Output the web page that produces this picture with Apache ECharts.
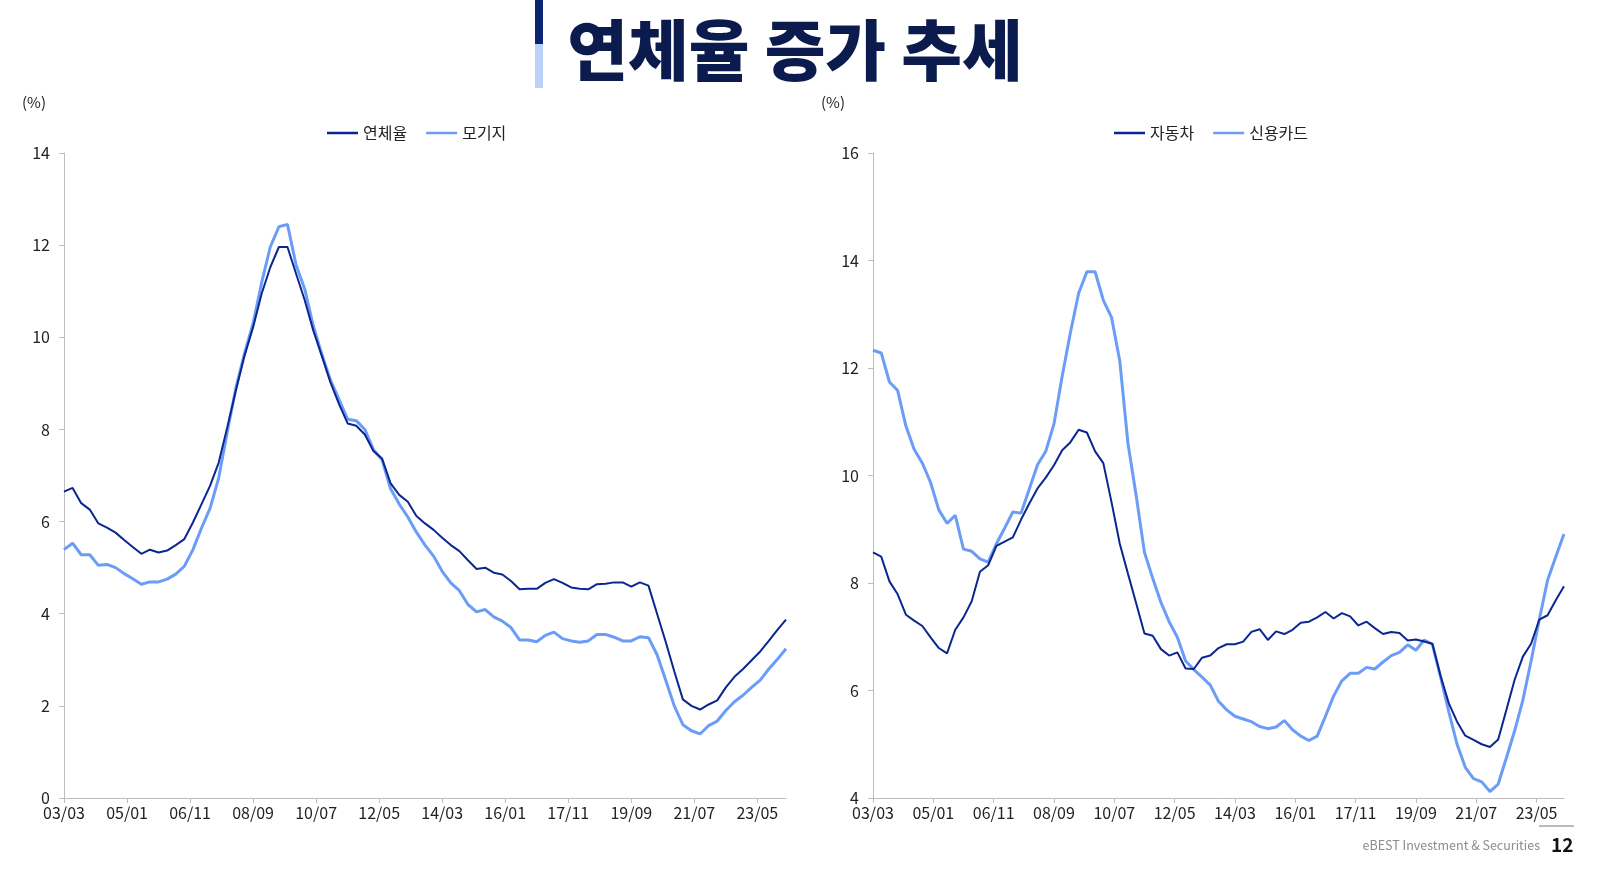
<!DOCTYPE html>
<html><head><meta charset="utf-8">
<script src="https://cdn.jsdelivr.net/npm/echarts@6/dist/echarts.min.js"></script>
<style>html,body{margin:0;padding:0;background:#fff}#c{width:1600px;height:875px}</style>
</head><body><div id="c"></div>
<script>
// Quarterly data, 2003-03 .. 2024-03 (85 quarters)
const startYear = 2003, startMonth = 3;
const tickLabels = ['03/03','05/01','06/11','08/09','10/07','12/05','14/03','16/01','17/11','19/09','21/07','23/05'];
const leftNames = ['연체율', '모기지'];
const rightNames = ['자동차', '신용카드'];

const delinquency = [6.65,6.73,6.40,6.26,5.96,5.87,5.76,5.60,5.45,5.30,5.39,5.33,5.37,5.49,5.62,5.98,6.38,6.78,7.28,8.05,
  8.85,9.60,10.22,10.95,11.52,11.96,11.96,11.38,10.81,10.15,9.59,9.02,8.55,8.13,8.08,7.89,7.53,7.37,6.83,6.58,
  6.43,6.12,5.96,5.82,5.65,5.49,5.36,5.16,4.97,5.00,4.89,4.85,4.71,4.53,4.54,4.54,4.67,4.75,4.67,4.57,
  4.54,4.53,4.64,4.65,4.68,4.68,4.59,4.68,4.61,4.00,3.39,2.75,2.14,2.00,1.92,2.03,2.12,2.40,2.63,2.80,
  2.99,3.18,3.41,3.65,3.87];
const mortgage = [5.39,5.53,5.28,5.28,5.05,5.07,5.00,4.87,4.76,4.64,4.69,4.69,4.75,4.86,5.03,5.39,5.86,6.29,6.95,7.95,
  8.90,9.65,10.30,11.19,11.96,12.40,12.45,11.57,11.05,10.25,9.63,9.07,8.65,8.22,8.19,8.00,7.56,7.34,6.71,6.38,
  6.10,5.77,5.49,5.25,4.92,4.67,4.50,4.20,4.04,4.09,3.93,3.84,3.70,3.43,3.43,3.39,3.53,3.60,3.46,3.41,
  3.38,3.41,3.55,3.55,3.49,3.41,3.41,3.50,3.48,3.11,2.56,2.00,1.59,1.46,1.39,1.57,1.67,1.90,2.09,2.23,
  2.40,2.56,2.80,3.01,3.24];
const autoLoan = [8.57,8.49,8.03,7.79,7.41,7.30,7.20,6.99,6.79,6.69,7.13,7.36,7.66,8.21,8.33,8.69,8.77,8.85,9.18,9.48,
  9.76,9.96,10.19,10.47,10.62,10.85,10.80,10.45,10.23,9.50,8.73,8.17,7.62,7.06,7.02,6.77,6.65,6.71,6.41,6.40,
  6.61,6.65,6.79,6.86,6.86,6.91,7.09,7.14,6.94,7.10,7.05,7.13,7.26,7.28,7.36,7.46,7.34,7.44,7.38,7.21,
  7.28,7.16,7.05,7.09,7.07,6.93,6.95,6.91,6.87,6.27,5.76,5.42,5.16,5.08,5.00,4.95,5.09,5.64,6.20,6.63,
  6.87,7.32,7.40,7.68,7.94];
const creditCard = [12.33,12.28,11.74,11.58,10.92,10.49,10.23,9.87,9.36,9.11,9.26,8.63,8.59,8.45,8.39,8.73,9.02,9.32,9.30,9.75,
  10.20,10.45,10.96,11.85,12.66,13.39,13.79,13.79,13.26,12.94,12.13,10.59,9.62,8.57,8.09,7.64,7.28,6.99,6.55,6.39,
  6.25,6.10,5.80,5.64,5.52,5.47,5.42,5.33,5.29,5.32,5.44,5.27,5.15,5.07,5.15,5.52,5.90,6.18,6.32,6.32,
  6.43,6.40,6.53,6.65,6.71,6.85,6.75,6.94,6.86,6.25,5.60,5.00,4.57,4.36,4.30,4.12,4.26,4.75,5.25,5.82,
  6.55,7.32,8.05,8.49,8.91];

const DARK = '#0A2690', LIGHT = '#6B9CF6', AXIS = '#BDBDBD', FONT = 'Noto Sans CJK KR';

function monthIndex(lbl) { const [yy, mm] = lbl.split('/').map(Number); return (2000 + yy - startYear) * 12 + (mm - startMonth); }
const tickMonths = tickLabels.map(monthIndex);
const labelOf = {}; tickLabels.forEach((l, k) => labelOf[tickMonths[k]] = l);
const toPts = arr => arr.map((v, i) => [i * 3, v]);
const xMax = (delinquency.length - 1) * 3;

function xAxis(gi) {
  return {
    type: 'value', gridIndex: gi, min: 0, max: xMax,
    axisLine: { show: true, lineStyle: { color: AXIS, width: 1 } },
    axisTick: { show: true, customValues: tickMonths, length: 5, lineStyle: { color: AXIS } },
    axisLabel: { customValues: tickMonths, formatter: v => labelOf[v] || '', color: '#222', fontSize: 16, fontFamily: FONT, margin: 7 },
    splitLine: { show: false }
  };
}
function yAxis(gi, mn, mx) {
  return {
    type: 'value', gridIndex: gi, min: mn, max: mx, interval: 2,
    axisLine: { show: true, lineStyle: { color: AXIS, width: 1 } },
    axisTick: { show: true, length: 5, lineStyle: { color: AXIS } },
    axisLabel: { color: '#222', fontSize: 16, fontFamily: FONT, margin: 14 },
    splitLine: { show: false }
  };
}
function line(name, data, gi, color, w) {
  return { type: 'line', name, data: toPts(data), xAxisIndex: gi, yAxisIndex: gi, showSymbol: false, symbol: 'none',
    lineStyle: { color, width: w }, itemStyle: { color }, z: color === DARK ? 3 : 2 };
}
function legend(names, left) {
  return { data: names, left, top: 120, padding: 5, icon: 'rect', itemWidth: 31, itemHeight: 2.5, itemGap: 19,
    textStyle: { fontSize: 16, color: '#222', fontFamily: FONT } };
}

const chart = echarts.init(document.getElementById('c'));
chart.setOption({
  animation: false,
  textStyle: { fontFamily: FONT },
  grid: [
    { left: 64, right: 1600 - 786, top: 153, bottom: 875 - 798 },
    { left: 873, right: 1600 - 1564, top: 153, bottom: 875 - 798 }
  ],
  xAxis: [xAxis(0), xAxis(1)],
  yAxis: [yAxis(0, 0, 14), yAxis(1, 4, 16)],
  legend: [legend(leftNames, 322), legend(rightNames, 1109)],
  series: [
    line(leftNames[0], delinquency, 0, DARK, 2),
    line(leftNames[1], mortgage, 0, LIGHT, 3),
    line(rightNames[0], autoLoan, 1, DARK, 2),
    line(rightNames[1], creditCard, 1, LIGHT, 3)
  ],
  graphic: [
    { type: 'rect', left: 535, top: 0, shape: { width: 8, height: 44 }, style: { fill: '#0A2472' } },
    { type: 'rect', left: 535, top: 44, shape: { width: 8, height: 44 }, style: { fill: '#BCD1F8' } },
    { type: 'text', x: 795, y: 50, style: { text: '연체율 증가 추세', font: '900 66px "Noto Sans CJK KR"', fill: '#0B1B4D', textAlign: 'center', textVerticalAlign: 'middle' } },
    { type: 'text', x: 22, y: 102, style: { text: '(%)', font: '15px "Noto Sans CJK KR"', fill: '#222', textVerticalAlign: 'middle' } },
    { type: 'text', x: 821, y: 102, style: { text: '(%)', font: '15px "Noto Sans CJK KR"', fill: '#222', textVerticalAlign: 'middle' } },
    { type: 'text', x: 1540, y: 845, style: { text: 'eBEST Investment & Securities', font: '12.5px "Noto Sans CJK KR"', fill: '#8C8C8C', textAlign: 'right', textVerticalAlign: 'middle' } },
    { type: 'text', x: 1551, y: 845, style: { text: '12', font: 'bold 19px "Noto Sans CJK KR"', fill: '#111', textVerticalAlign: 'middle' } },
    { type: 'line', shape: { x1: 1539, y1: 826, x2: 1574, y2: 826 }, style: { stroke: '#777', lineWidth: 1 } }
  ]
});
</script></body></html>
